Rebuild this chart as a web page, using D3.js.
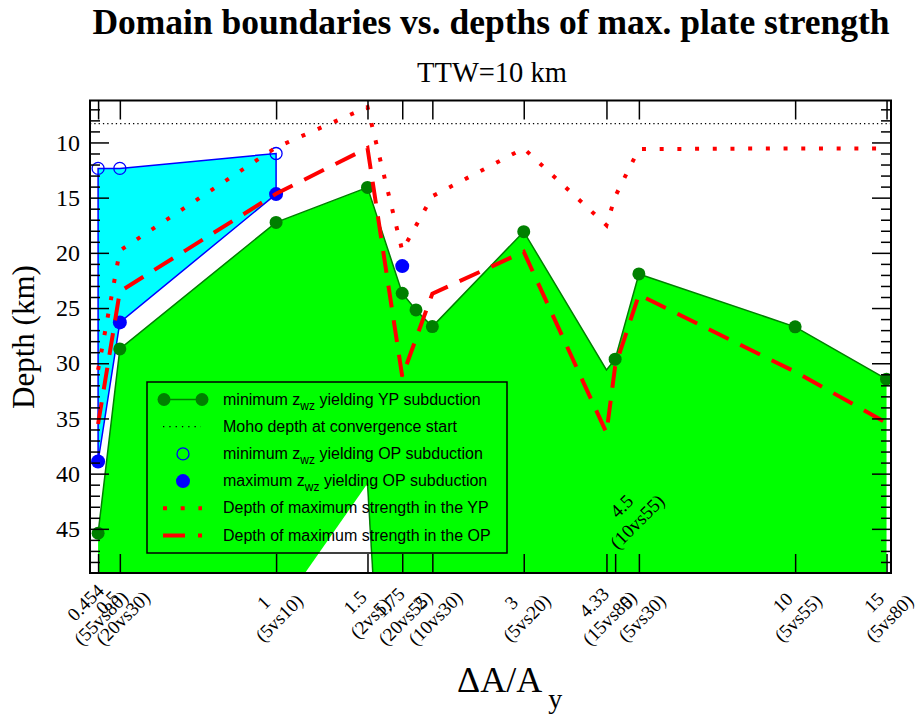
<!DOCTYPE html>
<html>
<head>
<meta charset="utf-8">
<script src="https://cdn.jsdelivr.net/npm/d3@7"></script>
<style>
    body { margin: 0; background: #fff; }
    svg text { font-family: "Liberation Serif", "Times New Roman", serif; fill: #000; }
</style>
</head>
<body>
<div id="chart"></div>
<script>
// ---- data ----
// x axis: ratio dA/A_y (log scale), labelled with the two thicknesses
const xTickValues = [0.454, 0.5, 1, 1.5, 1.75, 2, 3, 4.33, 5, 10, 15];
const xTickTop = ["0.454", "0.5", "1", "1.5", "1.75", "2", "3", "4.33", "5", "10", "15"];
const xTickBottom = ["(55vs80)", "(20vs30)", "(5vs10)", "(2vs5)", "(20vs55)", "(10vs30)", "(5vs20)", "(15vs80)", "(5vs30)", "(5vs55)", "(5vs80)"];
const noteValue = 4.5;
const noteDepth = 44.35;
const noteLines = ["4.5", "(10vs55)"];

const yMajorTicks = [10, 15, 20, 25, 30, 35, 40, 45];
const yMinorTicks = [7, 8, 9, 11, 12, 13, 14, 16, 17, 18, 19, 21, 22, 23, 24, 26, 27, 28, 29,
    31, 32, 33, 34, 36, 37, 38, 39, 41, 42, 43, 44, 46, 47, 48];

// minimum z_wz yielding YP subduction (boundary of green domain)
const ypLineX = [0.454, 0.5, 1, 1.5, 1.75, 1.86, 2, 3, 4.33, 4.5, 5, 10, 15];
const ypLineDepth = [45.4, 28.7, 17.24, 14.07, 23.66, 25.17, 26.68, 18.08, 30.6, 29.63, 21.91, 26.7, 31.44];
const ypMarkX = [0.454, 0.5, 1, 1.5, 1.75, 1.86, 2, 3, 4.5, 5, 10, 15];
const ypMarkDepth = [45.4, 28.7, 17.24, 14.07, 23.66, 25.17, 26.68, 18.08, 29.63, 21.91, 26.7, 31.44];

// white wedge left open in the green domain below x=1.5
const notchX = [1.137, 1.5, 1.536];
const notchDepth = [49, 40.9, 49];

// OP subduction window
const opMinX = [0.454, 0.5, 1];
const opMinDepth = [12.35, 12.35, 11.0];
const opMaxX = [0.454, 0.5, 1, 1.75];
const opMaxDepth = [38.9, 26.3, 14.68, 21.2];

const mohoDepth = 8.3;

// depth of maximum strength
const strengthX = [0.454, 0.5, 1, 1.5, 1.75, 2, 3, 4.33, 4.5, 5, 10, 15];
const ypStrengthDepth = [30.6, 19.8, 10.45, 6.8, 19.8, 14.87, 10.54, 17.5, 14.9, 10.6, 10.54, 10.54];
const opStrengthDepth = [35.5, 23.5, 14.65, 10.5, 31.2, 23.7, 19.9, 36.3, 30.3, 23.8, 30.77, 35.4];

const legendLabels = [
    ["minimum z", "wz", " yielding YP subduction"],
    ["Moho depth at convergence start"],
    ["minimum z", "wz", " yielding OP subduction"],
    ["maximum z", "wz", " yielding OP subduction"],
    ["Depth of maximum strength in the YP"],
    ["Depth of maximum strength in the OP"]
];
const legendKinds = ["ypLine", "moho", "openCircle", "filledCircle", "dotted", "dashed"];

const serif = "'Liberation Serif', 'Times New Roman', serif";
const sans = "'Liberation Sans', Arial, sans-serif";

class depthVis {

    constructor(parentElement) {
        this.parentElement = parentElement;
        this.initVis();
    }

    initVis() {
        let vis = this;

        vis.margin = {top: 100.5, right: 30, bottom: 145, left: 90};
        vis.width = 921 - vis.margin.left - vis.margin.right;
        vis.height = 718 - vis.margin.top - vis.margin.bottom;

        vis.root = d3.select(`#${vis.parentElement}`)
            .append("svg")
            .attr("width", 921)
            .attr("height", 718);
        vis.svg = vis.root.append("g")
            .attr("transform", `translate(${vis.margin.left}, ${vis.margin.top})`);

        vis.x = d3.scaleLog().domain([0.438, 15.3]).range([0, vis.width]);
        vis.y = d3.scaleLinear().domain([6.2, 49]).range([0, vis.height]);

        vis.svg.append("clipPath").attr("id", "plot-clip")
            .append("rect")
            .attr("width", vis.width)
            .attr("height", vis.height);
        vis.plot = vis.svg.append("g").attr("clip-path", "url(#plot-clip)");

        vis.line = d3.line().x(d => vis.x(d[0])).y(d => vis.y(d[1]));

        vis.drawAreas();
        vis.drawSeries();
        vis.drawAxes();
        vis.drawLegend();
        vis.drawTitles();
    }

    drawAreas() {
        let vis = this;
        let bottom = vis.y.domain()[1] + 1;

        // green domain: everything below the YP subduction boundary
        let yp = d3.zip(ypLineX, ypLineDepth);
        let ypArea = yp.concat([[ypLineX[ypLineX.length - 1], bottom], [ypLineX[0], bottom]]);
        vis.plot.append("path")
            .attr("d", vis.line(ypArea) + "Z")
            .attr("fill", "#00ff00");

        let notch = d3.zip(notchX, notchDepth);
        vis.plot.append("path")
            .attr("d", vis.line(notch) + "Z")
            .attr("fill", "#fff");
        vis.plot.append("path")
            .attr("d", vis.line(notch.slice(1)))
            .attr("fill", "none")
            .attr("stroke", "#008000")
            .attr("stroke-width", 1.5);

        vis.plot.append("path")
            .attr("d", vis.line(yp))
            .attr("fill", "none")
            .attr("stroke", "#008000")
            .attr("stroke-width", 1.5);

        // cyan OP window between min and max z_wz
        let opPoly = d3.zip(opMinX, opMinDepth)
            .concat(d3.zip(opMaxX, opMaxDepth).slice(0, 3).reverse());
        vis.plot.append("path")
            .attr("d", vis.line(opPoly) + "Z")
            .attr("fill", "#00ffff")
            .attr("stroke", "#0000ff")
            .attr("stroke-width", 1.5);
    }

    drawSeries() {
        let vis = this;

        // Moho
        vis.plot.append("line")
            .attr("x1", 0).attr("x2", vis.width)
            .attr("y1", vis.y(mohoDepth)).attr("y2", vis.y(mohoDepth))
            .attr("stroke", "#000")
            .attr("stroke-width", 1.3)
            .attr("stroke-dasharray", "1.3,3");

        vis.plot.selectAll(".yp-mark")
            .data(d3.zip(ypMarkX, ypMarkDepth))
            .enter().append("circle")
            .attr("class", "yp-mark")
            .attr("cx", d => vis.x(d[0]))
            .attr("cy", d => vis.y(d[1]))
            .attr("r", 6.5)
            .attr("fill", "#008000");

        vis.plot.selectAll(".op-min")
            .data(d3.zip(opMinX, opMinDepth))
            .enter().append("circle")
            .attr("class", "op-min")
            .attr("cx", d => vis.x(d[0]))
            .attr("cy", d => vis.y(d[1]))
            .attr("r", 6)
            .attr("fill", "none")
            .attr("stroke", "#0000ff")
            .attr("stroke-width", 1.3);

        vis.plot.selectAll(".op-max")
            .data(d3.zip(opMaxX, opMaxDepth))
            .enter().append("circle")
            .attr("class", "op-max")
            .attr("cx", d => vis.x(d[0]))
            .attr("cy", d => vis.y(d[1]))
            .attr("r", 7)
            .attr("fill", "#0000ff");

        // max strength depths
        vis.plot.append("path")
            .attr("d", vis.line(d3.zip(strengthX, ypStrengthDepth)))
            .attr("fill", "none")
            .attr("stroke", "#ff0000")
            .attr("stroke-width", 4)
            .attr("stroke-dasharray", "4,13.7");
        vis.plot.append("path")
            .attr("d", vis.line(d3.zip(strengthX, opStrengthDepth)))
            .attr("fill", "none")
            .attr("stroke", "#ff0000")
            .attr("stroke-width", 4)
            .attr("stroke-dasharray", "22,13");
    }

    // two centred lines, turned 45 degrees
    addRotatedLabel(parent, px, py, lines) {
        let g = parent.append("g")
            .attr("transform", `translate(${px}, ${py}) rotate(-45)`);
        lines.forEach((txt, j) => {
            g.append("text")
                .attr("x", 0)
                .attr("y", (j - 1) * 22 + 6.5)
                .attr("text-anchor", "middle")
                .attr("font-family", serif)
                .attr("font-size", 19)
                .text(txt);
        });
    }

    drawAxes() {
        let vis = this;

        let axes = [
            d3.axisLeft(vis.y).tickValues(yMajorTicks).tickSize(-19).tickPadding(10),
            d3.axisLeft(vis.y).tickValues(yMinorTicks).tickSize(-10).tickFormat(""),
            d3.axisRight(vis.y).tickValues(yMajorTicks).tickSize(-19).tickFormat(""),
            d3.axisRight(vis.y).tickValues(yMinorTicks).tickSize(-10).tickFormat(""),
            d3.axisTop(vis.x).tickValues(xTickValues).tickSize(-19).tickFormat(""),
            d3.axisBottom(vis.x).tickValues(xTickValues.concat([noteValue])).tickSize(-19).tickFormat("")
        ];
        let shifts = [[0, 0], [0, 0], [vis.width, 0], [vis.width, 0], [0, 0], [0, vis.height]];

        axes.forEach((ax, i) => {
            let g = vis.svg.append("g")
                .attr("transform", `translate(${shifts[i][0]}, ${shifts[i][1]})`)
                .call(ax.tickSizeOuter(0));
            g.select(".domain").remove();
            g.selectAll(".tick line").attr("stroke", "#000").attr("stroke-width", 1.5);
            g.selectAll("text")
                .attr("font-family", serif)
                .attr("font-size", 24);
        });

        // frame
        vis.svg.append("rect")
            .attr("width", vis.width)
            .attr("height", vis.height)
            .attr("fill", "none")
            .attr("stroke", "#000")
            .attr("stroke-width", 2);

        // two-line rotated x labels
        xTickValues.forEach((v, i) => {
            vis.addRotatedLabel(vis.svg, vis.x(v) + 3, vis.height + 45, [xTickTop[i], xTickBottom[i]]);
        });

        // the 4.5 case is written inside the plot
        vis.addRotatedLabel(vis.svg, vis.x(noteValue) + 22, vis.y(noteDepth), noteLines);
    }

    drawLegend() {
        let vis = this;
        let lg = vis.root.append("g").attr("transform", "translate(147, 382)");

        lg.append("rect")
            .attr("width", 360)
            .attr("height", 171)
            .attr("fill", "none")
            .attr("stroke", "#000")
            .attr("stroke-width", 1.5);

        let rowY = i => 22.5 + i * 27.2;

        legendKinds.forEach((kind, i) => {
            let cy = rowY(i) - 5;
            if (kind === "ypLine") {
                lg.append("line").attr("x1", 17).attr("x2", 55).attr("y1", cy).attr("y2", cy)
                    .attr("stroke", "#008000").attr("stroke-width", 1.5);
                [17, 55].forEach(cx => lg.append("circle").attr("cx", cx).attr("cy", cy)
                    .attr("r", 6.5).attr("fill", "#008000"));
            } else if (kind === "moho") {
                lg.append("line").attr("x1", 16).attr("x2", 54).attr("y1", cy).attr("y2", cy)
                    .attr("stroke", "#000").attr("stroke-width", 1.3).attr("stroke-dasharray", "1.3,5");
            } else if (kind === "openCircle") {
                lg.append("circle").attr("cx", 36).attr("cy", cy).attr("r", 6)
                    .attr("fill", "none").attr("stroke", "#0000ff").attr("stroke-width", 1.3);
            } else if (kind === "filledCircle") {
                lg.append("circle").attr("cx", 36).attr("cy", cy).attr("r", 7).attr("fill", "#0000ff");
            } else {
                lg.append("line").attr("x1", 16).attr("x2", 55).attr("y1", cy).attr("y2", cy)
                    .attr("stroke", "#ff0000").attr("stroke-width", 4)
                    .attr("stroke-dasharray", kind === "dotted" ? "4,13.7" : "22,13");
            }

            let t = lg.append("text")
                .attr("x", 76)
                .attr("y", rowY(i))
                .attr("font-family", sans)
                .style("font-family", sans)
                .attr("font-size", 16);
            let parts = legendLabels[i];
            t.append("tspan").text(parts[0]);
            if (parts.length > 1) {
                t.append("tspan").attr("dy", 5).attr("font-size", 12).text(parts[1]);
                t.append("tspan").attr("dy", -5).text(parts[2]);
            }
        });
    }

    drawTitles() {
        let vis = this;

        vis.root.append("text")
            .attr("x", 491).attr("y", 34)
            .attr("text-anchor", "middle")
            .attr("font-size", 35.5)
            .attr("font-weight", "bold")
            .text("Domain boundaries vs. depths of max. plate strength");

        vis.root.append("text")
            .attr("x", 492).attr("y", 82)
            .attr("text-anchor", "middle")
            .attr("font-size", 28.5)
            .text("TTW=10 km");

        vis.root.append("text")
            .attr("transform", "translate(34, 337) rotate(-90)")
            .attr("text-anchor", "middle")
            .attr("font-size", 31)
            .text("Depth (km)");

        let xl = vis.root.append("text")
            .attr("x", 457).attr("y", 692)
            .attr("font-size", 36);
        xl.append("tspan").text("ΔA/A");
        xl.append("tspan").attr("dx", 6).attr("dy", 16).attr("font-size", 28).text("y");
    }
}

new depthVis("chart");
</script>
</body>
</html>
